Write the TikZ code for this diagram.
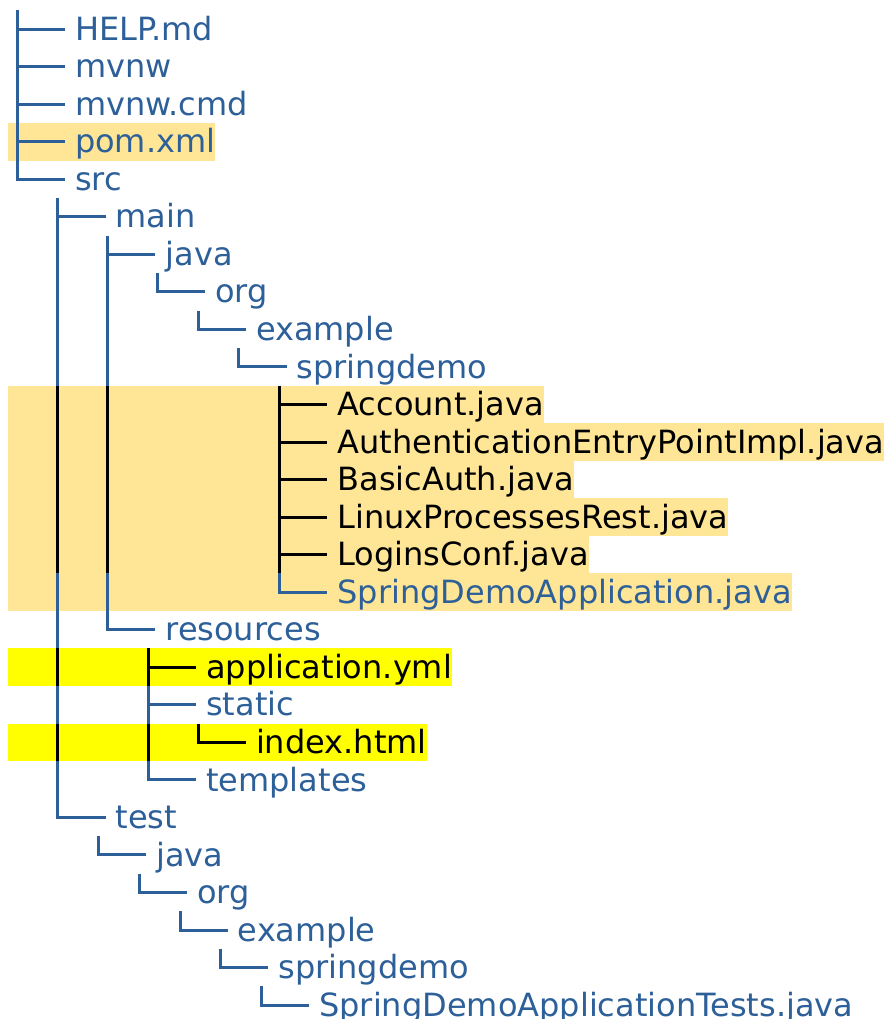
\documentclass[tikz,border=0pt]{standalone}
\usepackage{fontspec}
\setmainfont{DejaVu Sans}
\usetikzlibrary{calc,backgrounds}
\definecolor{tblue}{HTML}{2D5F99}
\definecolor{paleyel}{HTML}{FEE696}
\definecolor{brightyel}{HTML}{FFFF00}
\tikzset{
  tline/.style={line width=2.8pt, line cap=butt, line join=miter},
  tlabel/.style={anchor=base west, inner sep=0pt, outer sep=0pt, font=\fontsize{32}{38}\selectfont},
}
% #1 row, #2 node name, #3 prefix units (n=none, s=blank, v=bar), #4 connector t/l, #5 text, #6 colour
\newcommand\trow[6]{%
  \pgfmathsetmacro\by{40.2+37.54*#1}%
  \pgfmathsetmacro\ty{\by-29.9}%
  \pgfmathsetmacro\bty{\by+7.84}%
  \pgfmathsetmacro\hy{round(\by-11.6)+0.5}%
  \gdef\cx{7.07}%
  \foreach \u in {#3} {%
    \if v\u
      \pgfmathsetmacro\vx{round(\cx+9.63)+0.5}%
      \draw[tline,#6] (\vx,\ty) -- (\vx,\bty);
      \pgfmathsetmacro\nx{\cx+49.8}\xdef\cx{\nx}%
    \else\if s\u
      \pgfmathsetmacro\nx{\cx+40.7}\xdef\cx{\nx}%
    \fi\fi
  }%
  \pgfmathsetmacro\vx{round(\cx+9.63)+0.5}%
  \pgfmathsetmacro\hx{\cx+57.8}%
  \if t#4
    \draw[tline,#6] (\vx,\ty) -- (\vx,\bty);
    \draw[tline,#6] (\vx,\hy) -- (\hx,\hy);
  \else
    \draw[tline,#6] (\vx,\ty) -- (\vx,\hy) -- (\hx,\hy);
  \fi
  \pgfmathsetmacro\tx{\cx+68.0}%
  \node[tlabel,text=#6] (#2) at (\tx,\by) {#5};
}
% highlight: #1 row, #2 node name, #3 colour
\newcommand\hlrow[3]{%
  \pgfmathsetmacro\by{40.2+37.54*#1}%
  \pgfmathsetmacro\ty{\by-29.9}%
  \pgfmathsetmacro\bty{\by+7.84}%
  \begin{pgfonlayer}{background}
    \fill[#3] let \p1=(#2.east) in (7.7,\ty) rectangle (\x1,\bty);
  \end{pgfonlayer}
}
\begin{document}
\begin{tikzpicture}[x=1pt,y=-1pt]
\useasboundingbox (0,0) rectangle (886,1019);
\trow{0}{help}{n}{t}{HELP.md}{tblue}
\trow{1}{mvnw}{n}{t}{mvnw}{tblue}
\trow{2}{mvnwcmd}{n}{t}{mvnw.cmd}{tblue}
\trow{3}{pom}{n}{t}{pom.xml}{tblue}
\trow{4}{src}{n}{l}{src}{tblue}
\trow{5}{main}{s}{t}{main}{tblue}
\trow{6}{mjava}{s,v}{t}{java}{tblue}
\trow{7}{morg}{s,v,v}{l}{org}{tblue}
\trow{8}{mexample}{s,v,v,s}{l}{example}{tblue}
\trow{9}{mspring}{s,v,v,s,s}{l}{springdemo}{tblue}
\trow{10}{account}{s,v,v,s,s,s}{t}{Account.java}{black}
\trow{11}{authep}{s,v,v,s,s,s}{t}{AuthenticationEntryPointImpl.java}{black}
\trow{12}{basicauth}{s,v,v,s,s,s}{t}{BasicAuth.java}{black}
\trow{13}{linuxproc}{s,v,v,s,s,s}{t}{LinuxProcessesRest.java}{black}
\trow{14}{loginsconf}{s,v,v,s,s,s}{t}{LoginsConf.java}{black}
\trow{15}{sdapp}{s,v,v,s,s,s}{l}{SpringDemoApplication.java}{tblue}
\trow{16}{resources}{s,v}{l}{resources}{tblue}
\trow{17}{appyml}{s,v,s}{t}{application.yml}{black}
\trow{18}{static}{s,v,s}{t}{static}{tblue}
\trow{19}{indexhtml}{s,v,s,v}{l}{index.html}{black}
\trow{20}{templates}{s,v,s}{l}{templates}{tblue}
\trow{21}{test}{s}{l}{test}{tblue}
\trow{22}{tjava}{s,s}{l}{java}{tblue}
\trow{23}{torg}{s,s,s}{l}{org}{tblue}
\trow{24}{texample}{s,s,s,s}{l}{example}{tblue}
\trow{25}{tspring}{s,s,s,s,s}{l}{springdemo}{tblue}
\trow{26}{sdtests}{s,s,s,s,s,s}{l}{SpringDemoApplicationTests.java}{tblue}
\hlrow{3}{pom}{paleyel}
\hlrow{10}{account}{paleyel}
\hlrow{11}{authep}{paleyel}
\hlrow{12}{basicauth}{paleyel}
\hlrow{13}{linuxproc}{paleyel}
\hlrow{14}{loginsconf}{paleyel}
\hlrow{15}{sdapp}{paleyel}
\hlrow{17}{appyml}{brightyel}
\hlrow{19}{indexhtml}{brightyel}
\end{tikzpicture}
\end{document}
